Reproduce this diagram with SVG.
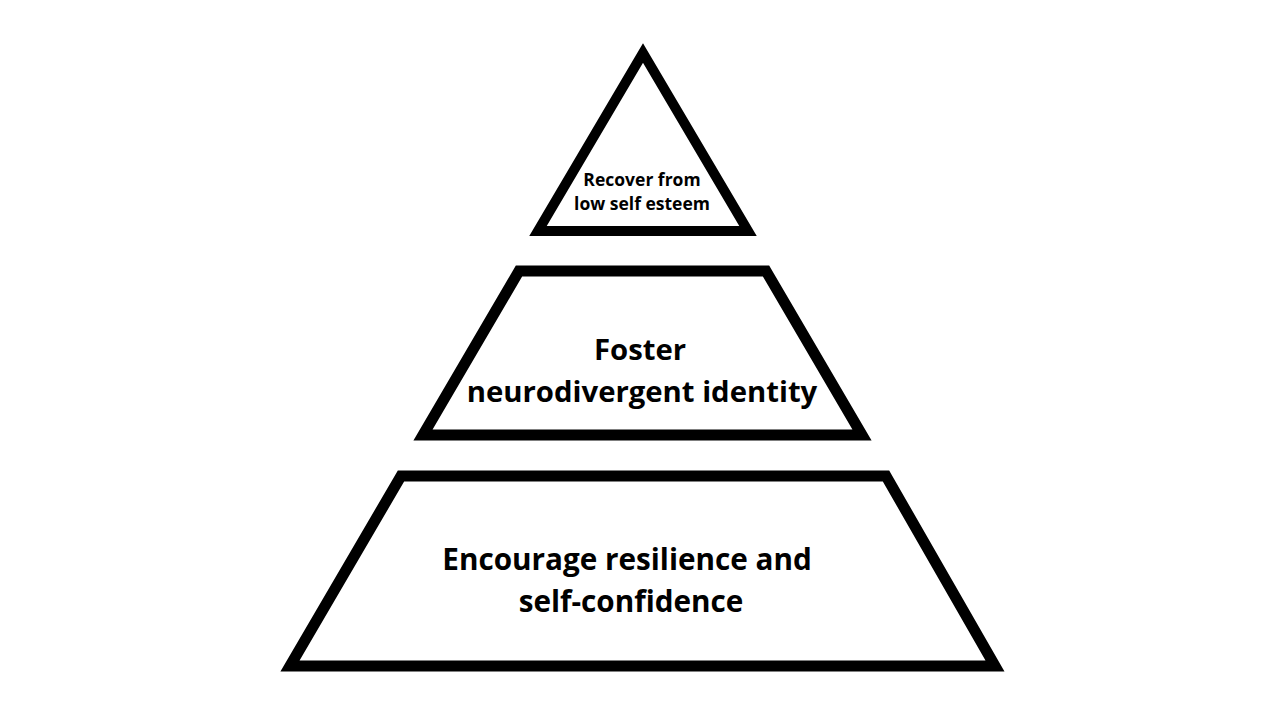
<svg xmlns="http://www.w3.org/2000/svg" width="1280" height="720" viewBox="0 0 1280 720">
<style>
.shape{fill:#fff;stroke:#000;stroke-linejoin:miter;stroke-miterlimit:10}
.t{font-family:"Open Sans","Noto Sans","Liberation Sans",sans-serif;font-weight:bold;fill:#000;text-anchor:middle}
</style>
<rect width="1280" height="720" fill="#fff"/>
<g id="top">
<polygon class="shape" stroke-width="10" points="643,53 538,231 748,231"/>
<text class="t" font-size="17.5" x="642" y="186">Recover from</text>
<text class="t" font-size="17.5" x="642" y="210">low self esteem</text>
</g>
<g id="middle">
<polygon class="shape" stroke-width="11" points="519,271 766,271 862,435 423,435"/>
<text class="t" font-size="29.3" x="640" y="360">Foster</text>
<text class="t" font-size="29.3" x="642" y="402">neurodivergent identity</text>
</g>
<g id="bottom">
<polygon class="shape" stroke-width="11" points="401,476 886,476 995,666 290,666"/>
<text class="t" font-size="29.7" x="627" y="570">Encourage resilience and</text>
<text class="t" font-size="29.7" x="631" y="612">self-confidence</text>
</g>
<g id="connectors"/>
</svg>
